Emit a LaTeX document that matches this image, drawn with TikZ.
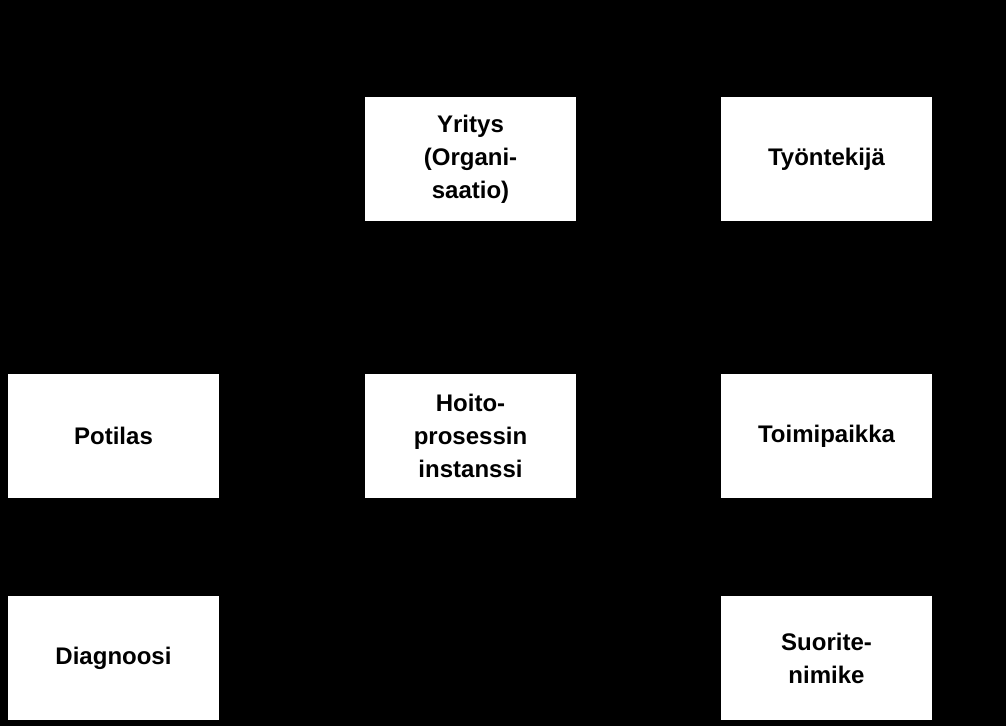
\documentclass[tikz,border=0pt]{standalone}
\usepackage{fontspec}
\setmainfont{Liberation Sans}
\begin{document}
\begin{tikzpicture}[x=1pt,y=-1pt,
  box/.style={fill=white,draw=none,minimum width=211pt,minimum height=124pt,inner sep=0pt,
    align=center,font=\fontsize{24}{33}\selectfont\bfseries,text=black}]
\fill[black] (0,0) rectangle (1006,726);
\useasboundingbox (0,0) rectangle (1006,726);
\node[box] (yritys) at (470.5,159) {Yritys\\(Organi-\\saatio)};
\node[box] (tyontekija) at (826.5,159) {Työntekijä};
\node[box] (potilas) at (113.5,436) {Potilas};
\node[box] (hoito) at (470.5,436) {Hoito-\\prosessin\\instanssi};
\node[box] (toimipaikka) at (826.5,436) {Toimipaikka};
\node[box] (diagnoosi) at (113.5,658) {Diagnoosi};
\node[box] (suorite) at (826.5,658) {Suorite-\\nimike};
\end{tikzpicture}
\end{document}
